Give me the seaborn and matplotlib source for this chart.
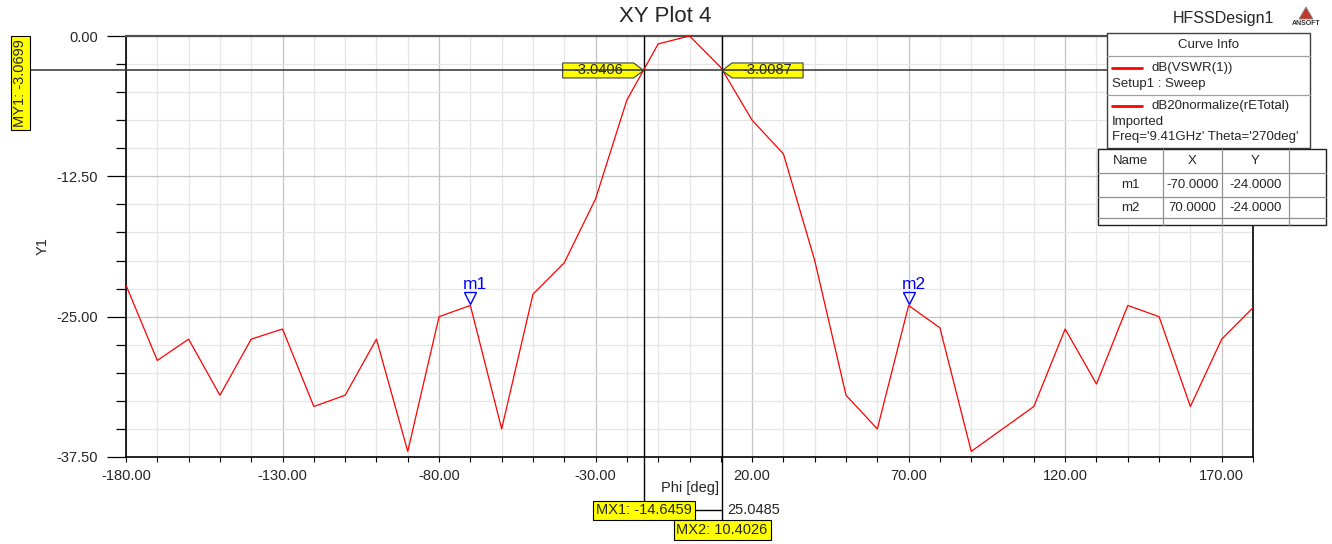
"""XY Plot 4: HFSS radiation pattern cut with cursors and markers."""

import matplotlib

matplotlib.use("Agg")

import matplotlib.pyplot as plt
import matplotlib.transforms as mtransforms
import pandas as pd
import seaborn as sns
from matplotlib.lines import Line2D
from matplotlib.patches import Polygon, Rectangle
from matplotlib.ticker import FixedLocator, FormatStrFormatter, MultipleLocator

# curve: dB20normalize(rETotal), Phi sweep
PHI = [-180, -170, -160, -150, -140, -130, -120, -110, -100, -90, -80, -70,
       -60, -50, -40, -30, -20, -10, 0, 10, 20, 30, 40, 50, 60, 70, 80, 90,
       100, 110, 120, 130, 140, 150, 160, 170, 180]
DB = [-22.2, -28.9, -27.0, -32.0, -27.0, -26.1, -33.0, -32.0, -27.0, -37.0,
      -25.0, -24.0, -35.0, -23.0, -20.2, -14.5, -5.7, -0.7, 0.0, -2.8, -7.5,
      -10.5, -20.0, -32.0, -35.0, -24.0, -26.0, -37.0, -35.0, -33.0, -26.1,
      -31.0, -24.0, -25.0, -33.0, -27.0, -24.2]

MARKER_NAMES = ["m1", "m2"]
MARKER_X = [-70.0, 70.0]
MARKER_Y = [-24.0, -24.0]

MX1 = -14.6459
MX2 = 10.4026
MY1 = -3.0699
CROSS_Y = [-3.0406, -3.0087]

X_MAJOR = [-180, -130, -80, -30, 20, 70, 120, 170]

W, H = 1332, 544
YELLOW = "#ffff00"


def fx(x):
    return x / W


def fy(y):
    return 1 - y / H


def fig_rect(fig, x0, y0, x1, y1, **kw):
    fig.add_artist(Rectangle((fx(x0), fy(y1)), (x1 - x0) / W, (y1 - y0) / H,
                             transform=fig.transFigure, **kw))


def fig_line(fig, xs, ys, **kw):
    fig.add_artist(Line2D([fx(v) for v in xs], [fy(v) for v in ys],
                          transform=fig.transFigure, **kw))


def flag(ax, x, y, label, side):
    # yellow pentagon pointing at (x, y), drawn in pixel offsets
    s = -1 if side == "left" else 1
    verts = [(0, 0), (s * 10, 7.5), (s * 81, 7.5), (s * 81, -7.5), (s * 10, -7.5)]
    trans = mtransforms.Affine2D() + mtransforms.ScaledTranslation(x, y, ax.transData)
    ax.add_patch(Polygon(verts, closed=True, transform=trans, facecolor=YELLOW,
                         edgecolor="#404040", lw=0.8, clip_on=False, zorder=6))
    ax.annotate(label, (x, y), xytext=(s * 45, 0), textcoords="offset pixels",
                ha="center", va="center", fontsize=10.5, zorder=7,
                annotation_clip=False)


def main() -> None:
    sns.set_theme(style="white")
    plt.rcParams["font.family"] = ["Liberation Sans", "DejaVu Sans"]

    df = pd.DataFrame({"phi": PHI, "db": DB})

    fig = plt.figure(figsize=(W / 100, H / 100), dpi=100)
    ax = fig.add_axes([fx(126), fy(457), (1253 - 126) / W, (457 - 36) / H])

    sns.lineplot(data=df, x="phi", y="db", ax=ax, color="red", lw=0.9,
                 legend=False, zorder=4)

    ax.set_xlim(-180, 180)
    ax.set_ylim(-37.5, 0)
    ax.xaxis.set_major_locator(FixedLocator(X_MAJOR))
    ax.xaxis.set_minor_locator(MultipleLocator(10))
    ax.yaxis.set_major_locator(MultipleLocator(12.5))
    ax.yaxis.set_minor_locator(MultipleLocator(2.5))
    ax.xaxis.set_major_formatter(FormatStrFormatter("%.2f"))
    ax.yaxis.set_major_formatter(FormatStrFormatter("%.2f"))

    ax.grid(which="major", color="#c4c4c4", lw=0.9)
    ax.grid(which="minor", color="#e6e6e6", lw=0.9)
    ax.set_axisbelow(True)

    ax.tick_params(axis="x", which="both", direction="out", length=3.5,
                   width=0.8, color="black", labelsize=10.5, pad=5, bottom=True)
    ax.tick_params(axis="y", which="major", direction="out", length=14,
                   width=0.9, color="black", labelsize=10.5, pad=6, left=True)
    ax.tick_params(axis="y", which="minor", direction="out", length=7,
                   width=0.9, color="black", left=True)

    for side in ("left", "bottom", "right"):
        ax.spines[side].set_color("black")
        ax.spines[side].set_linewidth(1.2)
    ax.spines["top"].set_color("#505050")
    ax.spines["top"].set_linewidth(1.6)

    ax.set_xlabel("Phi [deg]", fontsize=10.5)
    ax.set_ylabel("Y1", fontsize=10.5)
    ax.xaxis.set_label_coords(0.5, -0.056)
    ax.yaxis.set_label_coords(-0.068, 0.5)

    # markers m1 / m2
    mk_trans = mtransforms.offset_copy(ax.transData, fig=fig, x=0, y=7, units="dots")
    ax.plot(MARKER_X, MARKER_Y, ls="none", marker="v", ms=9, mfc="none",
            mec="blue", mew=1.0, transform=mk_trans, clip_on=False, zorder=5)
    for name, mx, my in zip(MARKER_NAMES, MARKER_X, MARKER_Y):
        ax.annotate(name, (mx, my), xytext=(5, 13), textcoords="offset pixels",
                    ha="center", va="bottom", color="blue", fontsize=12.5)

    # cursors
    blend_y = mtransforms.blended_transform_factory(fig.transFigure, ax.transData)
    fig.add_artist(Line2D([fx(30), fx(1107)], [MY1, MY1], transform=blend_y,
                          color="#303030", lw=1.1, zorder=3))
    ax.axvline(MX1, ymin=-44 / 421, ymax=1, color="black", lw=1.0,
               clip_on=False, zorder=3)
    ax.axvline(MX2, ymin=-64 / 421, ymax=1, color="black", lw=1.0,
               clip_on=False, zorder=3)

    blend_x = mtransforms.blended_transform_factory(ax.transData, fig.transFigure)
    fig.add_artist(Line2D([MX1, MX2], [fy(510), fy(510)], transform=blend_x,
                          color="black", lw=1.0))
    fig.text(fx(727), fy(510), f"{MX2 - MX1:.4f}", ha="left", va="center",
             fontsize=10.5)

    box = dict(boxstyle="square,pad=0.2", facecolor=YELLOW, edgecolor="black", lw=0.8)
    fig.text(MX1, fy(510.5), f"MX1: {MX1:.4f}", transform=blend_x, ha="center",
             va="center", fontsize=10.5, bbox=box, zorder=8)
    fig.text(MX2, fy(530), f"MX2: {MX2:.4f}", transform=blend_x, ha="center",
             va="center", fontsize=10.5, bbox=box, zorder=8)
    fig.text(fx(20.5), fy(83), f"MY1: {MY1:.4f}", rotation=90, ha="center",
             va="center", fontsize=10.5, bbox=box, zorder=8)

    flag(ax, MX1, MY1, f"{CROSS_Y[0]:.4f}", "left")
    flag(ax, MX2, MY1, f"{CROSS_Y[1]:.4f}", "right")

    # titles
    fig.text(fx(665), fy(16), "XY Plot 4", ha="center", va="center", fontsize=16)
    fig.text(fx(1223), fy(18), "HFSSDesign1", ha="center", va="center", fontsize=11.5)
    fig.add_artist(Polygon([(fx(1299), fy(19)), (fx(1306), fy(7)), (fx(1313), fy(19))],
                           closed=True, transform=fig.transFigure,
                           facecolor="#c0392b", edgecolor="#888888", lw=0.6))
    fig.text(fx(1306), fy(23.5), "ANSOFT", ha="center", va="center", fontsize=5,
             fontweight="bold", color="#333333")

    # curve info box
    fig_rect(fig, 1107, 33, 1310, 148, facecolor="white", edgecolor="#404040",
             lw=1.0, zorder=9)
    fig_line(fig, [1107, 1310], [56, 56], color="#a0a0a0", lw=0.9, zorder=10)
    fig_line(fig, [1107, 1310], [95, 95], color="#a0a0a0", lw=0.9, zorder=10)
    fig.text(fx(1208), fy(45), "Curve Info", ha="center", va="center",
             fontsize=9.5, zorder=11)
    curve_rows = [
        (68, "dB(VSWR(1))", ["Setup1 : Sweep"]),
        (106, "dB20normalize(rETotal)",
         ["Imported", "Freq='9.41GHz' Theta='270deg'"]),
    ]
    for y0, name, extra in curve_rows:
        fig_line(fig, [1112, 1142], [y0, y0], color="red", lw=2.0, zorder=11)
        fig.text(fx(1151), fy(y0), name, ha="left", va="center", fontsize=9.5,
                 zorder=11)
        for k, line in enumerate(extra):
            fig.text(fx(1112), fy(y0 + 15.5 * (k + 1)), line, ha="left",
                     va="center", fontsize=9.5, zorder=11)

    # marker table
    fig_rect(fig, 1098, 149, 1326, 225, facecolor="white", edgecolor="#202020",
             lw=1.0, zorder=9)
    for yl in (173, 197, 218):
        fig_line(fig, [1098, 1326], [yl, yl], color="#909090", lw=0.9, zorder=10)
    for xl in (1163, 1222, 1289):
        fig_line(fig, [xl, xl], [149, 225], color="#909090", lw=0.9, zorder=10)
    col_x = [1130.5, 1192.5, 1255.5]
    for cx, head in zip(col_x, ["Name", "X", "Y"]):
        fig.text(fx(cx), fy(161), head, ha="center", va="center", fontsize=9.5,
                 zorder=11)
    for ry, name, mx, my in zip((185, 208), MARKER_NAMES, MARKER_X, MARKER_Y):
        cells = [name, f"{mx:.4f}", f"{my:.4f}"]
        for cx, cell in zip(col_x, cells):
            fig.text(fx(cx), fy(ry), cell, ha="center", va="center",
                     fontsize=9.5, zorder=11)

    fig.savefig("out.png", dpi=100)
    plt.close(fig)


if __name__ == "__main__":
    main()
